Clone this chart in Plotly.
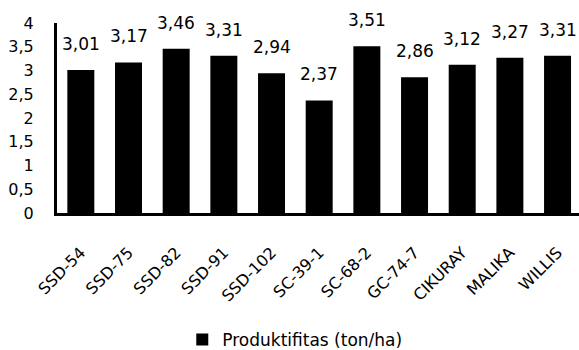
import plotly.graph_objects as go

categories = ["SSD-54", "SSD-75", "SSD-82", "SSD-91", "SSD-102", "SC-39-1",
              "SC-68-2", "GC-74-7", "CIKURAY", "MALIKA", "WILLIS"]
values = [3.01, 3.17, 3.46, 3.31, 2.94, 2.37, 3.51, 2.86, 3.12, 3.27, 3.31]
series_name = "Produktifitas (ton/ha)"
y_ticks = [0, 0.5, 1, 1.5, 2, 2.5, 3, 3.5, 4]

FONT = "DejaVu Sans"

fig = go.Figure()
fig.add_trace(go.Bar(
    x=categories, y=values, name=series_name,
    marker=dict(color="black", line=dict(width=0)),
    showlegend=True,
))

for c, v in zip(categories, values):
    fig.add_annotation(
        x=c, y=v, text=f"{v:.2f}".replace(".", ","),
        showarrow=False, yanchor="bottom", yshift=14,
        font=dict(family=FONT, size=17, color="black"),
    )

fig.update_layout(
    width=579, height=350,
    margin=dict(l=57, r=0, t=23, b=137, autoexpand=False),
    paper_bgcolor="white", plot_bgcolor="white",
    separators=",.",
    bargap=0.434,
    font=dict(family=FONT, color="black"),
    legend=dict(
        orientation="h", x=0.24, xanchor="left", y=-0.668, yanchor="middle",
        font=dict(family=FONT, size=17, color="black"),
    ),
)
fig.update_xaxes(
    type="category", range=[-0.5, 10.45], automargin=False,
    showline=True, linecolor="black", linewidth=3,
    tickangle=-45, ticks="", ticklabelstandoff=21,
    tickfont=dict(family=FONT, size=16, color="black"),
    showgrid=False, zeroline=False,
)
fig.update_yaxes(
    range=[0, 4], tickvals=y_ticks, automargin=False,
    showline=True, linecolor="black", linewidth=3,
    ticks="", ticklabelstandoff=17,
    tickfont=dict(family=FONT, size=16, color="black"),
    showgrid=False, zeroline=False,
)

fig.write_html("out.html")
